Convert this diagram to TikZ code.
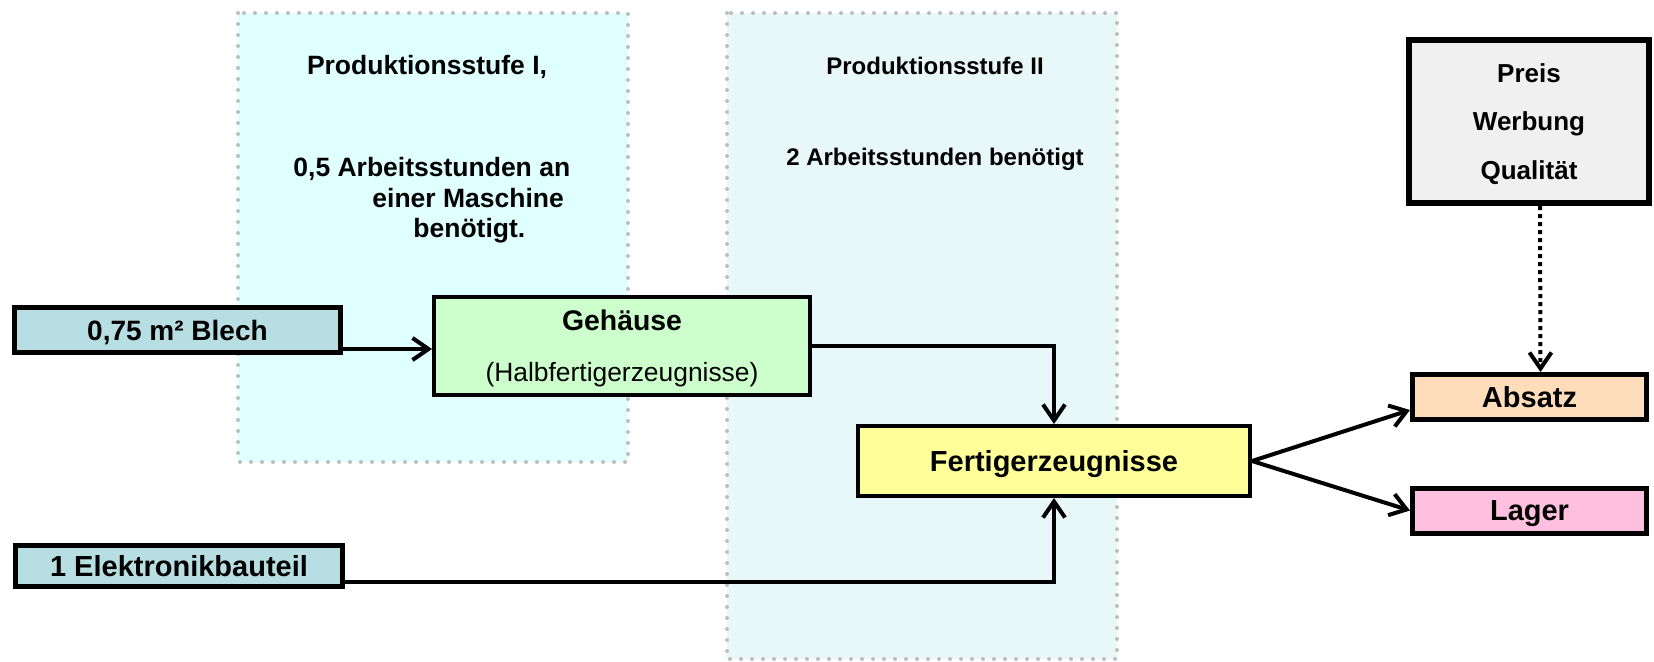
\documentclass[tikz,border=0pt]{standalone}
\usepackage{fontspec}
\setmainfont{Liberation Sans}
\usetikzlibrary{arrows.meta}

\definecolor{blaugruen}{RGB}{183,222,226}
\definecolor{hellcyan}{RGB}{224,255,255}
\definecolor{hellcyanzwei}{RGB}{232,248,248}
\definecolor{hellgruen}{RGB}{204,255,204}
\definecolor{gelb}{RGB}{255,255,153}
\definecolor{pfirsich}{RGB}{255,221,187}
\definecolor{rosa}{RGB}{255,192,224}
\definecolor{hellgrau}{RGB}{240,240,240}
\definecolor{punktgrau}{RGB}{190,190,190}

\begin{document}
\begin{tikzpicture}[x=0.5pt, y=-0.5pt,
    kasten/.style={draw, line width=2.5pt, inner sep=0pt, text depth=0pt, font=\bfseries\fontsize{14.5}{17}\selectfont},
    stufe/.style={draw=punktgrau, line width=2pt, dash pattern=on 0pt off 5.5pt, line cap=round},
    stufentext/.style={font=\bfseries\fontsize{13.25}{15.3}\selectfont, inner sep=0pt},
    zweitext/.style={font=\bfseries\fontsize{12}{14}\selectfont, inner sep=0pt},
    pfeil/.style={line width=2pt, -{Straight Barb[length=8pt, width=11pt]}}]
    \useasboundingbox (0,0) rectangle (1654,661);

    % Produktionsstufen
    \draw[stufe, fill=hellcyan] (238,13) rectangle (628,462);
    \draw[stufe, fill=hellcyanzwei] (727,13) rectangle (1117,659);
    \node[stufentext, anchor=base] (stufeI) at (427,74) {Produktionsstufe I,};
    \node[stufentext, anchor=north west, align=left] (stufeIzeit) at (293,157)
        {0,5 Arbeitsstunden an\\\hspace*{39.5pt}einer Maschine\\\hspace*{60pt}benötigt.};
    \node[zweitext, anchor=base] (stufeII) at (935,74) {Produktionsstufe II};
    \node[zweitext, anchor=base] (stufeIIzeit) at (935,165) {2 Arbeitsstunden benötigt};

    % Eingaenge
    \node[kasten, fill=blaugruen, minimum width=163pt, minimum height=22.5pt,
        font=\bfseries\fontsize{14}{17}\selectfont] (blech) at (177.5,330) {0,75 m² Blech};
    \node[kasten, fill=blaugruen, minimum width=163.5pt, minimum height=20.5pt] (elek) at (179,566) {1 Elektronikbauteil};

    % Erzeugnisse
    \node[kasten, line width=2pt, fill=hellgruen, minimum width=188pt, minimum height=49pt, align=center,
        font=\fontsize{13.2}{25.5}\selectfont] (gehaeuse) at (622,346)
        {{\bfseries\fontsize{14.2}{25.5}\selectfont Gehäuse}\\(Halbfertigerzeugnisse)};
    \node[kasten, line width=2pt, fill=gelb, minimum width=196pt, minimum height=35pt] (fertig) at (1054,461) {Fertigerzeugnisse};

    % Absatz und Lager
    \node[kasten, fill=pfirsich, minimum width=117pt, minimum height=22.5pt] (absatz) at (1529.5,397) {Absatz};
    \node[kasten, fill=rosa, minimum width=117pt, minimum height=22.5pt] (lager) at (1529.5,510.5) {Lager};
    \node[kasten, line width=3pt, fill=hellgrau, minimum width=120pt, minimum height=81.5pt, align=center,
        text depth=-2.5pt, font=\bfseries\fontsize{13}{24.25}\selectfont] (preis) at (1529,121.5) {Preis\\Werbung\\Qualität};

    % Verbindungen
    \coordinate (blechaus) at ([yshift=-9.5pt]blech.east);
    \draw[pfeil] (blechaus) -- (blechaus -| gehaeuse.west);
    \draw[pfeil] (gehaeuse.east) -| (fertig.north);
    \coordinate (elekaus) at ([yshift=-8pt]elek.east);
    \draw[pfeil] (elekaus) -| (fertig.south);
    \draw[pfeil] (fertig.east) -- ([yshift=-6.5pt]absatz.west);
    \draw[pfeil] (fertig.east) -- (lager.west);
    \draw[pfeil, dash pattern=on 2pt off 2pt] ([xshift=5.5pt]preis.south) -- ([xshift=5.5pt]absatz.north); % Einfluss
\end{tikzpicture}
\end{document}
